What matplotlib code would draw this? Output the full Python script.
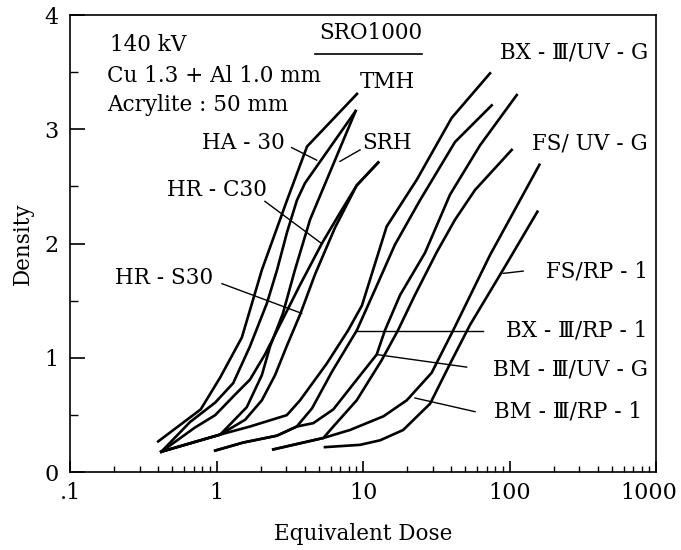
import matplotlib
matplotlib.use("Agg")
import matplotlib.pyplot as plt
from matplotlib.ticker import FixedLocator, FixedFormatter, NullFormatter
from matplotlib.transforms import ScaledTranslation

plt.rcParams['font.family'] = ['DejaVu Serif', 'DejaVu Sans']

# sensitometric curves (dose, density)
tmh_dose = [0.40, 0.78, 1.06, 1.49, 2.04, 3.03, 4.15, 9.1]
tmh_dens = [0.27, 0.55, 0.83, 1.18, 1.77, 2.38, 2.85, 3.31]

ha30_dose = [0.42, 0.66, 0.98, 1.30, 1.69, 2.21, 2.59, 3.03, 3.54, 4.02, 8.9]
ha30_dens = [0.18, 0.44, 0.61, 0.78, 1.10, 1.48, 1.77, 2.10, 2.38, 2.53, 3.16]

srh_dose = [0.42, 1.06, 1.61, 2.04, 2.32, 2.84, 3.43, 4.35, 8.9]
srh_dens = [0.18, 0.33, 0.57, 0.85, 1.10, 1.39, 1.77, 2.21, 3.16]

hrc30_dose = [0.42, 0.71, 0.98, 1.34, 1.69, 2.14, 2.71, 3.72, 5.23, 6.97, 9.06, 12.7]
hrc30_dens = [0.18, 0.39, 0.50, 0.68, 0.81, 1.03, 1.29, 1.64, 2.00, 2.27, 2.51, 2.71]

hrs30_dose = [0.42, 1.06, 1.57, 2.04, 2.51, 3.03, 3.72, 4.70, 6.44, 9.06, 12.7]
hrs30_dens = [0.18, 0.33, 0.46, 0.63, 0.85, 1.11, 1.38, 1.73, 2.14, 2.51, 2.71]

bx_uvg_dose = [0.42, 1.06, 1.69, 3.02, 3.72, 5.65, 7.90, 9.84, 14.5, 23.3, 40.3, 73.6]
bx_uvg_dens = [0.18, 0.33, 0.40, 0.50, 0.63, 0.95, 1.24, 1.46, 2.15, 2.56, 3.10, 3.49]

bx_rp1_dose = [0.98, 1.52, 2.58, 3.53, 4.49, 6.14, 9.06, 12.1, 16.5, 24.5, 42.5, 75.6]
bx_rp1_dens = [0.19, 0.26, 0.32, 0.40, 0.56, 0.88, 1.24, 1.60, 1.99, 2.38, 2.89, 3.21]

bm_uvg_dose = [0.98, 1.52, 2.58, 3.53, 4.58, 6.27, 9.06, 12.4, 14.1, 17.9, 26.5, 39.3, 62.9, 112]
bm_uvg_dens = [0.19, 0.26, 0.32, 0.40, 0.43, 0.55, 0.81, 1.03, 1.24, 1.55, 1.92, 2.43, 2.86, 3.30]

bm_rp1_dose = [2.44, 5.36, 6.27, 9.06, 13.4, 17.3, 22.6, 32.0, 42.5, 58.2, 103.5]
bm_rp1_dens = [0.20, 0.30, 0.40, 0.63, 0.98, 1.24, 1.55, 1.93, 2.21, 2.47, 2.82]

fs_uvg_dose = [2.44, 5.36, 8.15, 13.8, 19.9, 29.4, 41.2, 73.6, 160]
fs_uvg_dens = [0.20, 0.30, 0.37, 0.49, 0.63, 0.87, 1.24, 1.90, 2.69]

fs_rp1_dose = [5.50, 9.54, 13.1, 18.8, 28.7, 39.3, 53.8, 93.2, 155]
fs_rp1_dens = [0.22, 0.24, 0.28, 0.37, 0.60, 0.95, 1.29, 1.80, 2.28]

curves = [
    (tmh_dose, tmh_dens), (ha30_dose, ha30_dens), (srh_dose, srh_dens),
    (hrc30_dose, hrc30_dens), (hrs30_dose, hrs30_dens),
    (bx_uvg_dose, bx_uvg_dens), (bx_rp1_dose, bx_rp1_dens),
    (bm_uvg_dose, bm_uvg_dens), (bm_rp1_dose, bm_rp1_dens),
    (fs_uvg_dose, fs_uvg_dens), (fs_rp1_dose, fs_rp1_dens),
]

# labels: text, x, y, alignment
labels = [
    ("TMH", 9.54, 3.41, "left"),
    ("HA - 30", 2.94, 2.88, "right"),
    ("SRH", 9.84, 2.88, "left"),
    ("HR - C30", 2.21, 2.47, "right"),
    ("HR - S30", 0.946, 1.70, "right"),
    ("BX - Ⅲ/UV - G", 890, 3.67, "right"),
    ("FS/ UV - G", 880, 2.88, "right"),
    ("FS/RP - 1", 882, 1.76, "right"),
    ("BX - Ⅲ/RP - 1", 880, 1.24, "right"),
    ("BM - Ⅲ/UV - G", 880, 0.90, "right"),
    ("BM - Ⅲ/RP - 1", 802, 0.53, "right"),
]

# leader lines (x0, y0, x1, y1)
leaders = [
    (3.26, 2.84, 4.83, 2.73),
    (2.14, 2.37, 5.23, 2.00),
    (1.09, 1.65, 3.82, 1.39),
    (6.97, 2.72, 9.54, 2.82),
    (90.7, 1.74, 124, 1.76),
    (9.06, 1.24, 65.9, 1.24),
    (12.4, 1.03, 51.0, 0.92),
    (22.6, 0.65, 58.2, 0.53),
]

fig = plt.figure(figsize=(6.81, 5.50), dpi=100)
ax = fig.add_axes([0.1028, 0.1413, 0.8605, 0.8314])

for dose, dens in curves:
    ax.plot(dose, dens, color='black', linewidth=1.9, solid_joinstyle='miter')

for x0, y0, x1, y1 in leaders:
    ax.plot([x0, x1], [y0, y1], color='black', linewidth=1.0)

fs = 15.5
for text, x, y, ha in labels:
    ax.text(x, y, text, ha=ha, va='center', fontsize=fs)

ax.text(0.187, 3.74, "140 kV", ha='left', va='center', fontsize=fs)
ax.text(0.179, 3.47, "Cu 1.3 + Al 1.0 mm", ha='left', va='center', fontsize=fs)
ax.text(0.179, 3.21, "Acrylite : 50 mm", ha='left', va='center', fontsize=fs)
ax.text(11.3, 3.84, "SRO1000", ha='center', va='center', fontsize=fs)
ax.plot([4.70, 25.3], [3.66, 3.66], color='black', linewidth=1.2)

ax.set_xscale('log')
ax.set_xlim(0.1, 1000)
ax.set_ylim(0, 4)

ax.xaxis.set_major_locator(FixedLocator([0.1, 1, 10, 100, 1000]))
ax.xaxis.set_major_formatter(FixedFormatter([".1", "1", "10", "100", "1000"]))
minor_x = [m * 10.0 ** e for e in range(-1, 3) for m in range(2, 10)]
ax.xaxis.set_minor_locator(FixedLocator(minor_x))
ax.xaxis.set_minor_formatter(NullFormatter())

ax.yaxis.set_major_locator(FixedLocator([0, 1, 2, 3, 4]))
ax.yaxis.set_minor_locator(FixedLocator([0.5, 1.5, 2.5, 3.5]))

ax.tick_params(axis='x', which='major', direction='in', length=8, width=1.2,
               labelsize=16, pad=7)
ax.tick_params(axis='x', which='minor', direction='in', length=4, width=1.0)
ax.tick_params(axis='y', which='major', direction='in', length=11, width=1.2,
               labelsize=16, pad=8)
ax.tick_params(axis='y', which='minor', direction='in', length=6, width=1.0)

for s in ax.spines.values():
    s.set_linewidth(1.2)

# nudge the last x tick label left so it stays inside the figure
last = ax.get_xticklabels()[-1]
last.set_transform(last.get_transform() + ScaledTranslation(-0.07, 0, fig.dpi_scale_trans))

ax.set_xlabel("Equivalent Dose", fontsize=fs, labelpad=14)
ax.set_ylabel("Density", fontsize=fs, labelpad=8)

fig.savefig("out.png", dpi=100)
